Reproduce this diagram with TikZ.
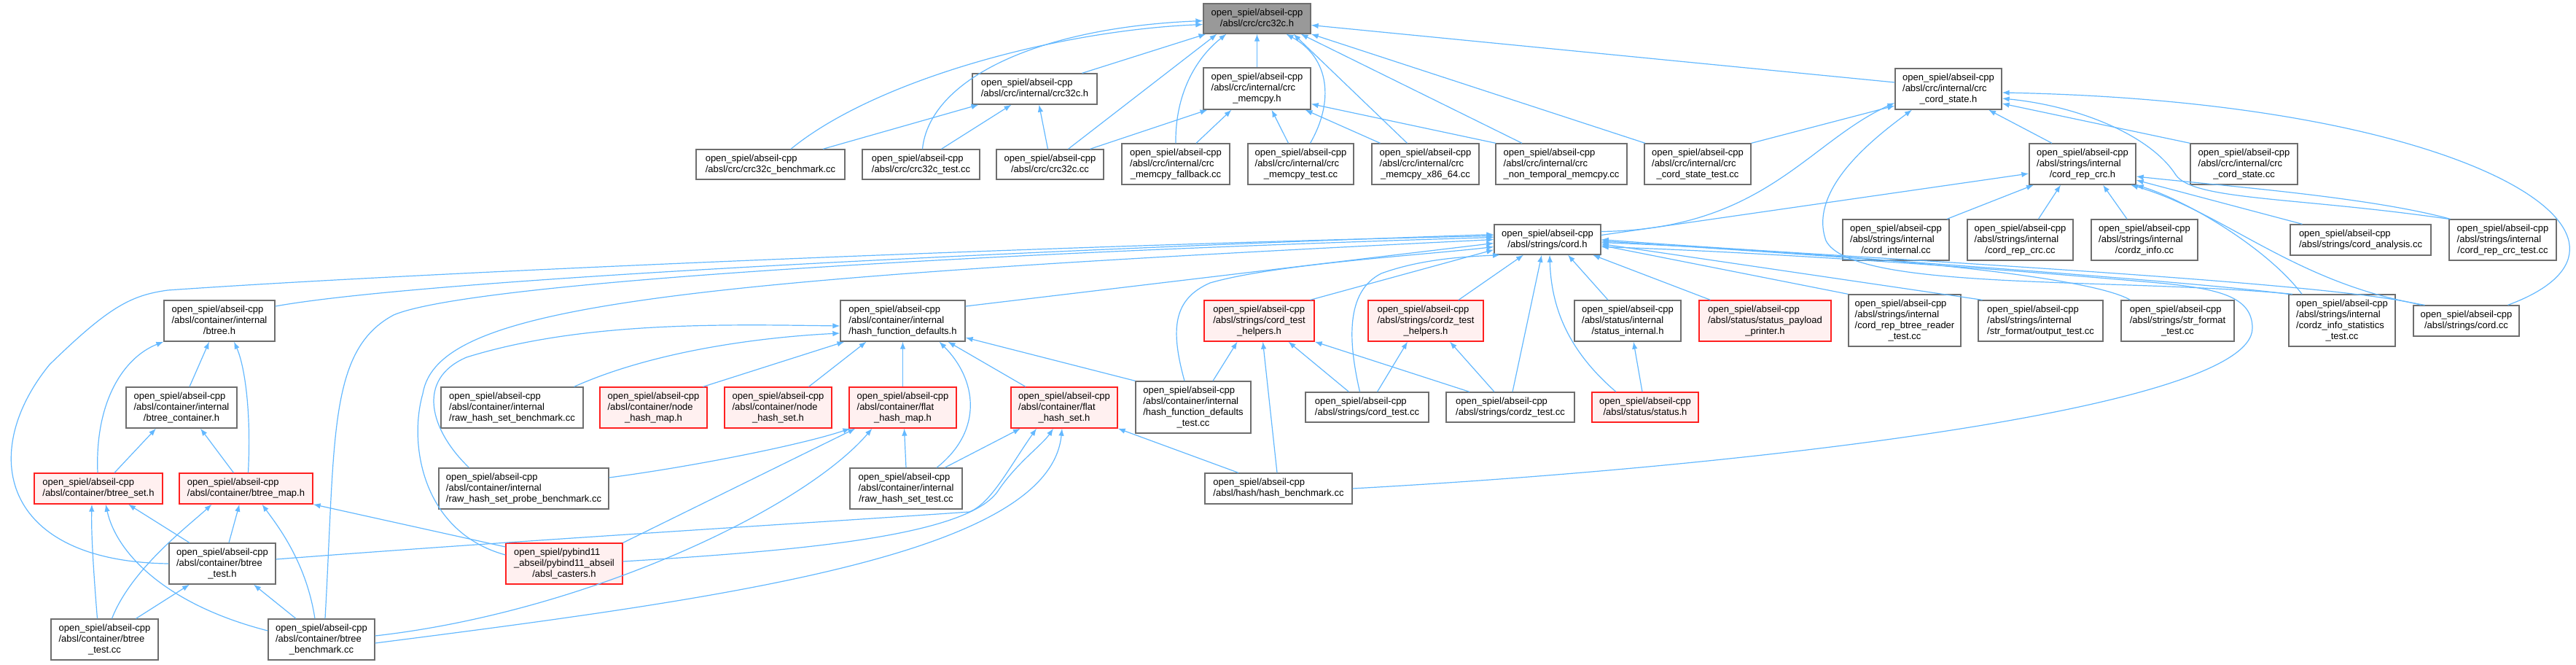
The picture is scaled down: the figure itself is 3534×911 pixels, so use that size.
\documentclass[tikz,border=0pt]{standalone}
\usepackage{fontspec}
\setmainfont{Liberation Sans}
\usetikzlibrary{arrows.meta}
\definecolor{edgeblue}{HTML}{63B8FF}
\definecolor{boxgray}{HTML}{6E6E6E}
\definecolor{boxred}{HTML}{FF2020}
\definecolor{boxredfill}{HTML}{FFF0F0}
\definecolor{rootfill}{HTML}{999999}
\newcommand{\lbB}[2]{\begin{tabular}{@{}l@{}}#1\\\multicolumn{1}{@{}c@{}}{#2}\end{tabular}}
\newcommand{\lbC}[3]{\begin{tabular}{@{}l@{}}#1\\#2\\\multicolumn{1}{@{}c@{}}{#3}\end{tabular}}
\newcommand{\lbD}[4]{\begin{tabular}{@{}l@{}}#1\\#2\\#3\\\multicolumn{1}{@{}c@{}}{#4}\end{tabular}}
\newcommand{\osa}{open\_spiel/abseil-cpp}
\tikzset{
  box/.style={draw=boxgray, fill=white, line width=1.3pt, inner sep=0pt, anchor=center,
    font=\fontsize{13}{15}\selectfont},
  rbox/.style={box, draw=boxred, fill=boxredfill},
  rootbox/.style={box, fill=rootfill},
  edge/.style={draw=edgeblue, line width=1.2pt, -{Latex[length=10pt,width=7.5pt]}},
}
\begin{document}
\begin{tikzpicture}[x=1pt,y=-1pt]
\useasboundingbox (0,0) rectangle (3534,911);
% ---------------- nodes ----------------
\node[rootbox, minimum width=147pt, minimum height=41pt] (A) at (1724.5,25.5) {\lbB{\osa}{/absl/crc/crc32c.h}};
\node[box, minimum width=171pt, minimum height=42pt] (B) at (1419.5,122) {\lbB{\osa}{/absl/crc/internal/crc32c.h}};
\node[box, minimum width=147pt, minimum height=57pt] (C) at (1724.5,121.5) {\lbC{\osa}{/absl/crc/internal/crc}{\_memcpy.h}};
\node[box, minimum width=146pt, minimum height=56pt] (D) at (2673,122) {\lbC{\osa}{/absl/crc/internal/crc}{\_cord\_state.h}};
\node[box, minimum width=204pt, minimum height=41pt] (E) at (1057,225.5) {\lbB{\osa}{/absl/crc/crc32c\_benchmark.cc}};
\node[box, minimum width=161pt, minimum height=41pt] (F) at (1263.5,225.5) {\lbB{\osa}{/absl/crc/crc32c\_test.cc}};
\node[box, minimum width=147pt, minimum height=41pt] (G) at (1440.5,225.5) {\lbB{\osa}{/absl/crc/crc32c.cc}};
\node[box, minimum width=148pt, minimum height=56pt] (H) at (1613,225) {\lbC{\osa}{/absl/crc/internal/crc}{\_memcpy\_fallback.cc}};
\node[box, minimum width=145pt, minimum height=56pt] (I) at (1784.5,225) {\lbC{\osa}{/absl/crc/internal/crc}{\_memcpy\_test.cc}};
\node[box, minimum width=147pt, minimum height=56pt] (J) at (1955.5,225) {\lbC{\osa}{/absl/crc/internal/crc}{\_memcpy\_x86\_64.cc}};
\node[box, minimum width=180pt, minimum height=56pt] (K) at (2142,225) {\lbC{\osa}{/absl/crc/internal/crc}{\_non\_temporal\_memcpy.cc}};
\node[box, minimum width=146pt, minimum height=56pt] (L) at (2329,225) {\lbC{\osa}{/absl/crc/internal/crc}{\_cord\_state\_test.cc}};
\node[box, minimum width=146pt, minimum height=56pt] (M) at (2857,225) {\lbC{\osa}{/absl/strings/internal}{/cord\_rep\_crc.h}};
\node[box, minimum width=147pt, minimum height=56pt] (N) at (3078.5,225) {\lbC{\osa}{/absl/crc/internal/crc}{\_cord\_state.cc}};
\node[box, minimum width=146pt, minimum height=41pt] (P) at (2123,328.5) {\lbB{\osa}{/absl/strings/cord.h}};
\node[box, minimum width=146pt, minimum height=56pt] (Q) at (2601,329) {\lbC{\osa}{/absl/strings/internal}{/cord\_internal.cc}};
\node[box, minimum width=145pt, minimum height=56pt] (R) at (2771.5,329) {\lbC{\osa}{/absl/strings/internal}{/cord\_rep\_crc.cc}};
\node[box, minimum width=146pt, minimum height=56pt] (S) at (2942,329) {\lbC{\osa}{/absl/strings/internal}{/cordz\_info.cc}};
\node[box, minimum width=193pt, minimum height=42pt] (T) at (3238.5,329) {\lbB{\osa}{/absl/strings/cord\_analysis.cc}};
\node[box, minimum width=147pt, minimum height=56pt] (U) at (3433.5,329) {\lbC{\osa}{/absl/strings/internal}{/cord\_rep\_crc\_test.cc}};
\node[box, minimum width=152pt, minimum height=56pt] (V) at (301,440) {\lbC{\osa}{/absl/container/internal}{/btree.h}};
\node[box, minimum width=171pt, minimum height=56pt] (W) at (1238.5,440) {\lbC{\osa}{/absl/container/internal}{/hash\_function\_defaults.h}};
\node[rbox, minimum width=151pt, minimum height=56pt] (X) at (1727.5,440) {\lbC{\osa}{/absl/strings/cord\_test}{\_helpers.h}};
\node[rbox, minimum width=158pt, minimum height=56pt] (Y) at (1956,440) {\lbC{\osa}{/absl/strings/cordz\_test}{\_helpers.h}};
\node[box, minimum width=146pt, minimum height=56pt] (Z) at (2233,440) {\lbC{\osa}{/absl/status/internal}{/status\_internal.h}};
\node[rbox, minimum width=181pt, minimum height=56pt] (AA) at (2421.5,440) {\lbC{\osa}{/absl/status/status\_payload}{\_printer.h}};
\node[box, minimum width=154pt, minimum height=71pt] (AB) at (2613,439.5) {\lbD{\osa}{/absl/strings/internal}{/cord\_rep\_btree\_reader}{\_test.cc}};
\node[box, minimum width=171pt, minimum height=56pt] (AC) at (2799.5,440) {\lbC{\osa}{/absl/strings/internal}{/str\_format/output\_test.cc}};
\node[box, minimum width=155pt, minimum height=56pt] (AD) at (2987.5,440) {\lbC{\osa}{/absl/strings/str\_format}{\_test.cc}};
\node[box, minimum width=146pt, minimum height=71pt] (AE) at (3213,439.5) {\lbD{\osa}{/absl/strings/internal}{/cordz\_info\_statistics}{\_test.cc}};
\node[box, minimum width=145pt, minimum height=42pt] (AF) at (3383.5,440) {\lbB{\osa}{/absl/strings/cord.cc}};
\node[box, minimum width=152pt, minimum height=56pt] (AG) at (249,559) {\lbC{\osa}{/absl/container/internal}{/btree\_container.h}};
\node[box, minimum width=195pt, minimum height=56pt] (AH) at (702.5,559) {\lbC{\osa}{/absl/container/internal}{/raw\_hash\_set\_benchmark.cc}};
\node[rbox, minimum width=147pt, minimum height=56pt] (AI) at (896.5,559) {\lbC{\osa}{/absl/container/node}{\_hash\_map.h}};
\node[rbox, minimum width=147pt, minimum height=56pt] (AJ) at (1067.5,559) {\lbC{\osa}{/absl/container/node}{\_hash\_set.h}};
\node[rbox, minimum width=147pt, minimum height=56pt] (AK) at (1238.5,559) {\lbC{\osa}{/absl/container/flat}{\_hash\_map.h}};
\node[rbox, minimum width=146pt, minimum height=56pt] (AL) at (1460,559) {\lbC{\osa}{/absl/container/flat}{\_hash\_set.h}};
\node[box, minimum width=158pt, minimum height=71pt] (AM) at (1637,558.5) {\lbD{\osa}{/absl/container/internal}{/hash\_function\_defaults}{\_test.cc}};
\node[box, minimum width=169pt, minimum height=41pt] (AN) at (1875.5,558.5) {\lbB{\osa}{/absl/strings/cord\_test.cc}};
\node[box, minimum width=176pt, minimum height=41pt] (AO) at (2072,558.5) {\lbB{\osa}{/absl/strings/cordz\_test.cc}};
\node[rbox, minimum width=146pt, minimum height=41pt] (AP) at (2257,558.5) {\lbB{\osa}{/absl/status/status.h}};
\node[rbox, minimum width=176pt, minimum height=42pt] (AQ) at (135,670) {\lbB{\osa}{/absl/container/btree\_set.h}};
\node[rbox, minimum width=183pt, minimum height=42pt] (AR) at (337.5,670) {\lbB{\osa}{/absl/container/btree\_map.h}};
\node[box, minimum width=233pt, minimum height=56pt] (AS) at (718.5,670) {\lbC{\osa}{/absl/container/internal}{/raw\_hash\_set\_probe\_benchmark.cc}};
\node[box, minimum width=154pt, minimum height=56pt] (AT) at (1243,670) {\lbC{\osa}{/absl/container/internal}{/raw\_hash\_set\_test.cc}};
\node[box, minimum width=202pt, minimum height=42pt] (AU) at (1754,670) {\lbB{\osa}{/absl/hash/hash\_benchmark.cc}};
\node[box, minimum width=146pt, minimum height=56pt] (AV) at (305,773) {\lbC{\osa}{/absl/container/btree}{\_test.h}};
\node[rbox, minimum width=160pt, minimum height=56pt] (AW) at (774,773) {\lbC{open\_spiel/pybind11}{\_abseil/pybind11\_abseil}{/absl\_casters.h}};
\node[box, minimum width=147pt, minimum height=56pt] (AX) at (143.5,877) {\lbC{\osa}{/absl/container/btree}{\_test.cc}};
\node[box, minimum width=146pt, minimum height=56pt] (AY) at (441,877) {\lbC{\osa}{/absl/container/btree}{\_benchmark.cc}};
% ---------------- edges into crc32c.h ----------------
\draw[edge] ([xshift=28pt]E.north) .. controls (1200,110) and (1450,42) .. ([yshift=-8pt]A.west);
\draw[edge] ([xshift=2pt]F.north) .. controls (1275,110) and (1420,38) .. ([yshift=-3pt]A.west);
\draw[edge] ([xshift=65pt]B.north) -- ([xshift=-70pt]A.south);
\draw[edge] ([xshift=25pt]G.north) -- ([xshift=-55pt]A.south);
\draw[edge] (H.north) .. controls (1612,130) and (1640,80) .. ([xshift=-42pt]A.south);
\draw[edge] (C.north) -- (A.south);
\draw[edge] ([xshift=13pt]I.north) .. controls (1830,140) and (1825,80) .. ([xshift=40pt]A.south);
\draw[edge] ([xshift=-25pt]J.north) -- ([xshift=50pt]A.south);
\draw[edge] ([xshift=-54pt]K.north) -- ([xshift=60pt]A.south);
\draw[edge] ([xshift=-72pt]L.north) -- (A.south east);
\draw[edge] ([yshift=9pt]D.west) -- ([yshift=-9pt]A.east);
% into internal/crc32c.h
\draw[edge] ([xshift=72pt]E.north) -- ([xshift=-77pt]B.south);
\draw[edge] ([xshift=28pt]F.north) -- ([xshift=-32pt]B.south);
\draw[edge] ([xshift=-3pt]G.north) -- ([xshift=6pt]B.south);
% into crc_memcpy.h
\draw[edge] ([xshift=55pt]G.north) -- ([xshift=-68pt]C.south);
\draw[edge] ([xshift=28pt]H.north) -- ([xshift=-35pt]C.south);
\draw[edge] ([xshift=-17pt]I.north) -- ([xshift=20pt]C.south);
\draw[edge] ([xshift=-62pt]J.north) -- ([xshift=66pt]C.south);
\draw[edge] ([xshift=-90pt]K.north) -- ([yshift=-21pt]C.east);
% into crc_cord_state.h
\draw[edge] (L.north east) -- ([yshift=-23pt]D.west);
\draw[edge] ([yshift=11pt]P.east) .. controls (2420,315) and (2480,195) .. ([yshift=-19pt]D.west);
\draw[edge] ([xshift=-42pt]M.north) -- ([xshift=55pt]D.south);
\draw[edge] (N.north west) -- ([yshift=-20pt]D.east);
\draw[edge] ([xshift=57pt]AF.north) .. controls (3680,330) and (3400,140) .. ([yshift=-5pt]D.east);
\draw[edge] (U.north west) .. controls (3150,270) and (3010,275) .. (2985,240) .. controls (2950,185) and (2850,145) .. ([yshift=-13pt]D.east);
\draw[edge] ([xshift=-68pt]AE.north) .. controls (2900,380) and (2540,400) .. (2505,330) .. controls (2480,260) and (2570,190) .. ([xshift=-50pt]D.south);
% into cord_rep_crc.h
\draw[edge] ([yshift=6pt]P.east) -- ([yshift=-13pt]M.west);
\draw[edge] ([xshift=70pt]Q.north) -- ([xshift=-67pt]M.south);
\draw[edge] ([xshift=25pt]R.north) -- ([xshift=-30pt]M.south);
\draw[edge] ([xshift=-24pt]S.north) -- ([xshift=28pt]M.south);
\draw[edge] ([xshift=-80pt]T.north) -- ([yshift=-22pt]M.east);
\draw[edge] ([xshift=-72pt]U.north) .. controls (3250,270) and (3050,255) .. ([yshift=-17pt]M.east);
\draw[edge] ([xshift=-55pt]AE.north) .. controls (3110,340) and (3000,275) .. (M.south east);
\draw[edge] ([xshift=-57pt]AF.north) .. controls (3150,390) and (3050,290) .. ([xshift=66pt]M.south);
% into cord.h
\draw[edge] ([yshift=20pt]V.east) .. controls (600,380) and (1500,340) .. ([yshift=7pt]P.west);
\draw[edge] (AV.west) .. controls (0,770) and (-30,620) .. (68,500) .. controls (150,420) and (180,405) .. (230,398) .. controls (600,372) and (1500,335) .. ([yshift=5pt]P.west);
\draw[edge] ([xshift=5pt]AY.north) .. controls (460,600) and (450,480) .. (540,432) .. controls (650,385) and (1400,345) .. ([yshift=3pt]P.west);
\draw[edge] ([yshift=12pt]AW.west) .. controls (580,730) and (560,610) .. (580,540) .. controls (600,420) and (900,385) .. (P.west);
\draw[edge] ([yshift=20pt]W.east) -- ([yshift=-5pt]P.west);
\draw[edge] ([xshift=-12pt]AM.north) .. controls (1605,450) and (1610,410) .. (1660,388) .. controls (1750,362) and (1950,350) .. ([yshift=-10pt]P.west);
\draw[edge] ([xshift=70pt]X.north) -- ([yshift=-14pt]P.west);
\draw[edge] ([xshift=-10pt]AN.north) .. controls (1850,470) and (1845,400) .. (1895,375) .. controls (1950,355) and (2010,352) .. ([xshift=-65pt]P.south);
\draw[edge] ([xshift=45pt]Y.north) -- ([xshift=-33pt]P.south);
\draw[edge] ([xshift=3pt]AO.north) -- ([xshift=-8pt]P.south);
\draw[edge] ([xshift=-40pt]AP.north) .. controls (2150,480) and (2128,420) .. ([xshift=3pt]P.south);
\draw[edge] ([xshift=-27pt]Z.north) -- ([xshift=28pt]P.south);
\draw[edge] ([xshift=-75pt]AA.north) -- ([xshift=62pt]P.south);
\draw[edge] (AB.north west) -- ([yshift=-8pt]P.east);
\draw[edge] ([xshift=-80pt]AC.north) -- ([yshift=-6pt]P.east);
\draw[edge] ([xshift=-65pt]AD.north) .. controls (2860,375) and (2500,345) .. ([yshift=-4pt]P.east);
\draw[edge] (AE.north west) .. controls (3000,385) and (2500,350) .. ([yshift=-2pt]P.east);
\draw[edge] ([xshift=-62pt]AF.north) .. controls (3200,385) and (2500,352) .. (P.east);
\draw[edge] (AU.east) .. controls (2400,640) and (3090,560) .. (3090,450) .. controls (3090,405) and (3040,395) .. (2950,387) .. controls (2700,365) and (2400,345) .. ([yshift=-10pt]P.east);
% into cord_test_helpers.h / cordz_test_helpers.h / status_internal.h
\draw[edge] ([xshift=27pt]AM.north) -- ([xshift=-30pt]X.south);
\draw[edge] ([xshift=-25pt]AN.north) -- ([xshift=40pt]X.south);
\draw[edge] ([xshift=-56pt]AO.north) -- (X.south east);
\draw[edge] ([xshift=-2pt]AU.north) -- ([xshift=5pt]X.south);
\draw[edge] ([xshift=14pt]AN.north) -- ([xshift=-25pt]Y.south);
\draw[edge] ([xshift=-22pt]AO.north) -- ([xshift=33pt]Y.south);
\draw[edge] ([xshift=-4pt]AP.north) -- ([xshift=8pt]Z.south);
% into hash_function_defaults.h
\draw[edge] ([xshift=85pt]AH.north) .. controls (900,480) and (1050,462) .. ([yshift=-17pt]W.west);
\draw[edge] ([xshift=68pt]AI.north) -- ([xshift=-80pt]W.south);
\draw[edge] ([xshift=42pt]AJ.north) -- ([xshift=-50pt]W.south);
\draw[edge] (AK.north) -- (W.south);
\draw[edge] ([xshift=-53pt]AL.north) -- ([xshift=62pt]W.south);
\draw[edge] ([xshift=42pt]AT.north) .. controls (1350,590) and (1340,520) .. ([xshift=50pt]W.south);
\draw[edge] (AM.north west) -- ([yshift=-23pt]W.east);
\draw[edge] ([xshift=-75pt]AS.north) .. controls (590,590) and (570,520) .. (640,490) .. controls (800,440) and (1000,445) .. ([yshift=-7pt]W.west);
% into flat_hash_map.h
\draw[edge] ([yshift=15pt]AS.east) .. controls (950,640) and (1100,610) .. ([xshift=-72pt]AK.south);
\draw[edge] (AT.north) -- ([xshift=2pt]AK.south);
\draw[edge] (AW.north east) -- ([xshift=-65pt]AK.south);
\draw[edge] ([yshift=5pt]AY.east) .. controls (800,840) and (1100,700) .. ([xshift=-42pt]AK.south);
% into flat_hash_set.h
\draw[edge] ([xshift=53pt]AT.north) -- ([xshift=-60pt]AL.south);
\draw[edge] ([yshift=6pt]AV.east) .. controls (700,742) and (1100,718) .. (1330,702) .. controls (1360,690) and (1385,640) .. ([xshift=-38pt]AL.south);
\draw[edge] ([yshift=3pt]AW.east) .. controls (1100,755) and (1330,735) .. (1370,672) .. controls (1395,635) and (1430,610) .. ([xshift=-15pt]AL.south);
\draw[edge] ([yshift=-5pt]AY.east) .. controls (1000,820) and (1440,760) .. ([xshift=-3pt]AL.south);
\draw[edge] ([xshift=-55pt]AU.north) -- (AL.south east);
% btree family
\draw[edge] ([xshift=11pt]AG.north) -- ([xshift=-14pt]V.south);
\draw[edge] ([xshift=-1pt]AQ.north) .. controls (130,550) and (170,490) .. (V.south west);
\draw[edge] ([xshift=3pt]AR.north) .. controls (345,560) and (335,500) .. ([xshift=20pt]V.south);
\draw[edge] ([xshift=22pt]AQ.north) -- ([xshift=-35pt]AG.south);
\draw[edge] ([xshift=-17pt]AR.north) -- ([xshift=26pt]AG.south);
\draw[edge] ([xshift=-45pt]AV.north) -- ([xshift=41pt]AQ.south);
\draw[edge] ([xshift=-10pt]AX.north) .. controls (128,780) and (125,730) .. ([xshift=-9pt]AQ.south);
\draw[edge] ([yshift=12pt]AY.west) .. controls (230,830) and (160,760) .. ([xshift=10pt]AQ.south);
\draw[edge] ([xshift=9pt]AV.north) -- ([xshift=-9pt]AR.south);
\draw[edge] ([xshift=10pt]AX.north) .. controls (180,780) and (260,720) .. ([xshift=-47pt]AR.south);
\draw[edge] ([xshift=-9pt]AY.north) .. controls (420,770) and (380,720) .. ([xshift=22pt]AR.south);
\draw[edge] ([yshift=23pt]AW.west) -- (AR.south east);
\draw[edge] ([xshift=43pt]AX.north) -- ([xshift=-45pt]AV.south);
\draw[edge] ([xshift=-35pt]AY.north) -- ([xshift=43pt]AV.south);
\end{tikzpicture}
\end{document}
